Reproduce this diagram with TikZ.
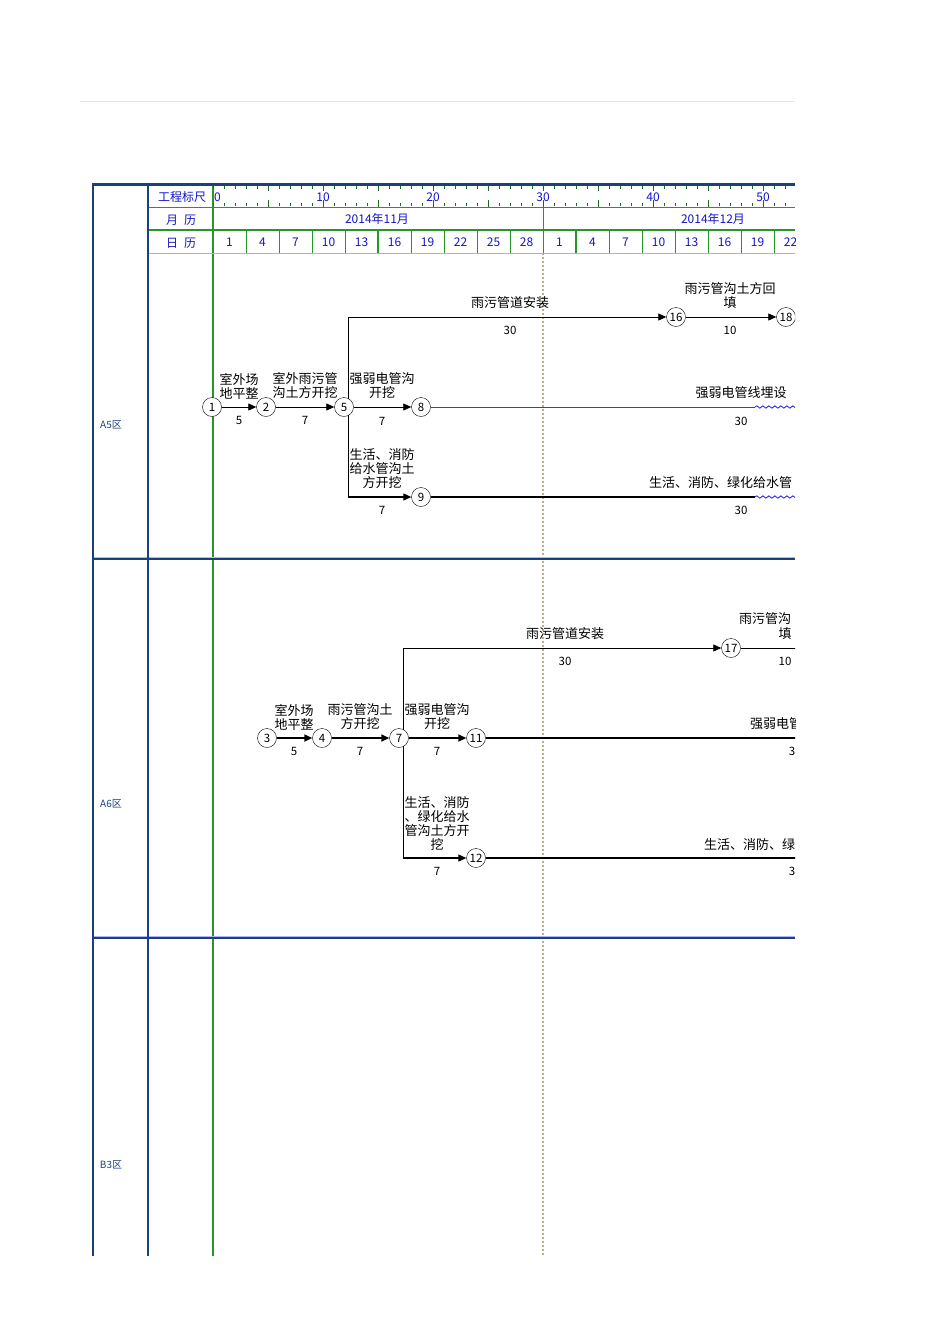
\documentclass[tikz,border=0pt]{standalone}
\usepackage{fontspec}
\setmainfont{Noto Sans CJK SC}
\usepackage{tikz}
\usetikzlibrary{arrows.meta,decorations.pathmorphing}
\definecolor{frame}{RGB}{25,65,125}
\definecolor{grid}{RGB}{40,150,40}
\definecolor{hdr}{RGB}{20,20,200}
\definecolor{today}{RGB}{185,175,140}

\begin{document}
\begin{tikzpicture}[x=1pt,y=-1pt,
  evt/.style={circle,draw,fill=white,minimum size=19pt,inner sep=0pt,font=\fontsize{11.5}{11.5}\selectfont},
  job/.style={align=center,inner sep=0pt,font=\fontsize{13}{14}\selectfont},
  dur/.style={inner sep=0pt,font=\fontsize{11.5}{12}\selectfont},
  hd/.style={inner sep=0pt,text=hdr,font=\fontsize{12}{12}\selectfont},
  zone/.style={inner sep=0pt,text=frame,font=\fontsize{10}{10}\selectfont},
  act/.style={-{Triangle[length=8pt,width=7pt]},line width=0.8pt},
  crit/.style={-{Triangle[length=8pt,width=7pt]},line width=1.6pt},
  wavy/.style={blue,line width=0.7pt,decorate,decoration={snake,amplitude=1.2pt,segment length=6pt}}]
 \useasboundingbox (0,0) rectangle (950,1344);
 \draw[black!10] (80,101) -- (795,101);

 \begin{scope}
 \clip (0,150) rectangle (795,1256);
 % table frame
 \draw[grid,line width=1.3pt] (213,184) -- (213,1256);
 \draw[grid] (148,207) -- (795,207);
 \draw[grid,line width=1.5pt] (148,230) -- (795,230);
 \draw[grid!50] (148,253) -- (795,253);
 \draw[grid,line width=1pt] (543,200) -- (543,253);
 \draw[today,line width=1.3pt,dash pattern=on 1.5pt off 2.5pt] (543,253) -- (543,1256);
 \foreach \k in {1,...,17}
   \draw[grid] ({213+33*\k},230) -- ({213+33*\k},253);
 \draw[grid,line width=1.5pt] (378,230) -- (378,253);
 \draw[grid,line width=1.5pt] (576,230) -- (576,253);
 \draw[blue!30] (93,557) -- (795,557);
 \draw[blue!30] (93,936) -- (795,936);
 \draw[frame,line width=2pt] (93,559) -- (795,559);
 \draw[frame,line width=2pt] (93,938) -- (795,938);
 \draw[frame,line width=2pt] (93,183) -- (93,1256);
 \draw[frame,line width=2pt] (148,184) -- (148,1256);
 \draw[frame,line width=3pt] (92,184) -- (795,184);

 % ruler
 \foreach \d in {0,...,53}{
   \draw[grid!70!black] ({213+11*\d},186) -- ({213+11*\d},189);
   \draw[grid!70!black] ({213+11*\d},203) -- ({213+11*\d},206);
 }
 \foreach \d in {5,10,...,55}{
   \draw[grid!70!black] ({213+11*\d},186) -- ({213+11*\d},191);
   \draw[grid!70!black] ({213+11*\d},200) -- ({213+11*\d},207);
 }
 \node[hd,anchor=west] at (214,197) {0};
 \foreach \d in {10,20,...,50}
   \node[hd] at ({213+11*\d},197) {\d};

 % header
 \node[hd] at (182,197) {工程标尺};
 \node[hd] at (181,220) {月\hspace{6pt}历};
 \node[hd] at (181,243) {日\hspace{6pt}历};
 \node[hd] at (377,219) {2014年11月};
 \node[hd] at (713,219) {2014年12月};
 \foreach \dd [count=\k from 0] in {1,4,7,10,13,16,19,22,25,28,1,4,7,10,13,16,19,22}
   \node[hd] at ({229.5+33*\k},242) {\dd};

 \node[zone] at (111,425) {A5区};
 \node[zone] at (111,804) {A6区};
 \node[zone] at (111,1165) {B3区};

 % A5
 \node[evt] (n1) at (212,407) {1};
 \node[evt] (n2) at (266,407) {2};
 \node[evt] (n5) at (344,407) {5};
 \node[evt] (n8) at (421,407) {8};
 \node[evt] (n9) at (421,497) {9};
 \node[evt] (n16) at (676,317) {16};
 \node[evt] (n18) at (786,317) {18};
 \coordinate (w8) at (755,407);
 \coordinate (e8) at (800,407);
 \coordinate (w9) at (755,497);
 \coordinate (e9) at (800,497);
 \draw[act] (n1) -- (n2);
 \draw[act] (n2) -- (n5);
 \draw[act] (n5) -- (n8);
 \draw[act] (n5.60) |- (n16);
 \draw[act,line width=1.1pt] (n5.-60) |- (n9);
 \draw[act] (n16) -- (n18);
 \draw[black!70,line width=0.8pt] (n8) -- (w8);
 \draw[wavy] (w8) -- (e8);
 \draw[line width=1.6pt] (n9) -- (w9);
 \draw[wavy] (w9) -- (e9);

 \node[job] at (239,386) {室外场\\地平整};
 \node[dur] at (239,420) {5};
 \node[job] at (305,386) {室外雨污管\\沟土方开挖};
 \node[dur] at (305,420) {7};
 \node[job] at (382,386) {强弱电管沟\\开挖};
 \node[dur] at (382,421) {7};
 \node[job] at (382,469) {生活、消防\\给水管沟土\\方开挖};
 \node[dur] at (382,510) {7};
 \node[job] at (510,303) {雨污管道安装};
 \node[dur] at (510,330) {30};
 \node[job] at (730,295.5) {雨污管沟土方回\\填};
 \node[dur] at (730,330) {10};
 \node[job] at (741,393) {强弱电管线埋设};
 \node[dur] at (741,421) {30};
 \node[job,anchor=west] at (649,483) {生活、消防、绿化给水管};
 \node[dur] at (741,510) {30};

 % A6
 \node[evt] (n3) at (267,738) {3};
 \node[evt] (n4) at (322,738) {4};
 \node[evt] (n7) at (399,738) {7};
 \node[evt] (n11) at (476,738) {11};
 \node[evt] (n12) at (476,858) {12};
 \node[evt] (n17) at (731,648) {17};
 \coordinate (e11) at (800,738);
 \coordinate (e12) at (800,858);
 \coordinate (e17) at (800,648);
 \draw[crit] (n3) -- (n4);
 \draw[crit] (n4) -- (n7);
 \draw[crit] (n7) -- (n11);
 \draw[act] (n7.60) |- (n17);
 \draw[act,line width=1.1pt] (n7.-60) |- (n12);
 \draw[line width=1.6pt] (n11) -- (e11);
 \draw[line width=1.6pt] (n12) -- (e12);
 \draw[line width=0.8pt] (n17) -- (e17);

 \node[job] at (294,717) {室外场\\地平整};
 \node[dur] at (294,751) {5};
 \node[job] at (360,717) {雨污管沟土\\方开挖};
 \node[dur] at (360,751) {7};
 \node[job] at (437,717) {强弱电管沟\\开挖};
 \node[dur] at (437,751) {7};
 \node[job] at (437,823.5) {生活、消防\\、绿化给水\\管沟土方开\\挖};
 \node[dur] at (437,871) {7};
 \node[job] at (565,634) {雨污管道安装};
 \node[dur] at (565,661) {30};
 \node[job,anchor=west] at (739,619) {雨污管沟};
 \node[job] at (785,634) {填};
 \node[dur] at (785,661) {10};
 \node[job,anchor=west] at (750,724) {强弱电管};
 \node[dur] at (792,751) {3};
 \node[job,anchor=west] at (704,845) {生活、消防、绿};
 \node[dur] at (792,871) {3};
 \end{scope}
\end{tikzpicture}
\end{document}
